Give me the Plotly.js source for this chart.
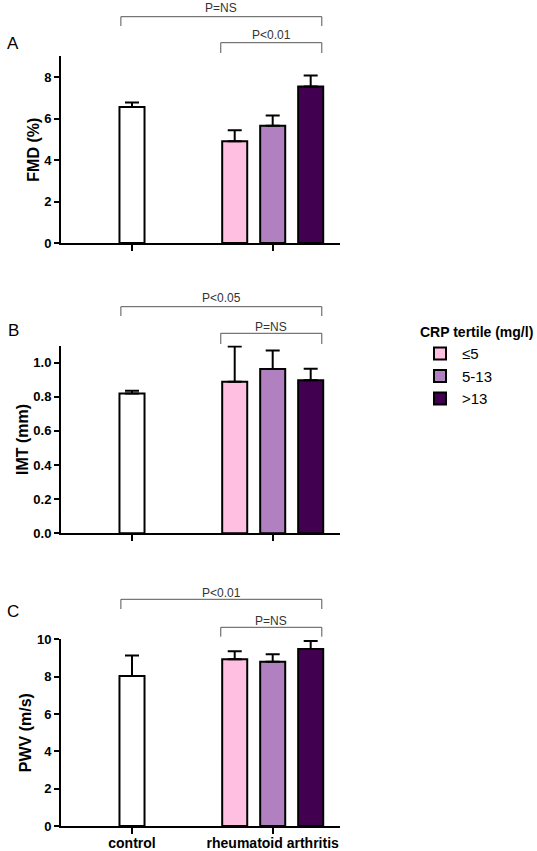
<!DOCTYPE html>
<html>
<head>
<meta charset="utf-8">
<script src="https://cdn.plot.ly/plotly-3.0.1.min.js"></script>
<style>html,body{margin:0;padding:0;background:#fff;}#chart{width:537px;height:851px;}</style>
</head>
<body>
<div id="chart"></div>
<script>
// ---- data ----
var categories = ['control', 'rheumatoid arthritis'];
var tertiles = ['\u22645', '5-13', '>13'];

var fmdControl = 6.55, fmdControlErr = 0.22;
var fmdMeans = [4.9, 5.65, 7.55];
var fmdErr = [0.53, 0.5, 0.53];

var imtControl = 0.82, imtControlErr = 0.016;
var imtMeans = [0.888, 0.963, 0.897];
var imtErr = [0.207, 0.109, 0.067];

var pwvControl = 8.03, pwvControlErr = 1.1;
var pwvMeans = [8.93, 8.8, 9.48];
var pwvErr = [0.43, 0.4, 0.43];

var panelLetters = ['A', 'B', 'C'];
var yTitles = ['FMD (%)', 'IMT (mm)', 'PWV (m/s)'];
var yRanges = [[0, 9], [0, 1.1], [0, 10]];
var yTicks = [[0, 2, 4, 6, 8], [0, 0.2, 0.4, 0.6, 0.8, 1.0], [0, 2, 4, 6, 8, 10]];
var yTickText = [['0', '2', '4', '6', '8'], ['0.0', '0.2', '0.4', '0.6', '0.8', '1.0'], ['0', '2', '4', '6', '8', '10']];
var pTop = ['P=NS', 'P<0.05', 'P<0.01'];
var pSub = ['P<0.01', 'P=NS', 'P=NS'];
var legendTitle = 'CRP tertile (mg/l)';

// ---- style ----
var tertileColors = ['#FFBFE0', '#B080C0', '#420050'];
var W = 537, H = 851;
function py(p) { return 1 - p / H; }
function px(p) { return p / W; }
var barW = 0.178, step = 0.27;
var fontFam = '"Liberation Sans", Arial, Helvetica, sans-serif';

var panels = [
  {c: fmdControl, ce: fmdControlErr, m: fmdMeans, e: fmdErr},
  {c: imtControl, ce: imtControlErr, m: imtMeans, e: imtErr},
  {c: pwvControl, ce: pwvControlErr, m: pwvMeans, e: pwvErr}
];
// pixel geometry: [top of axis, bottom of axis]
var domainsPx = [[56.3, 243], [345.6, 533.3], [639.3, 826]];
var bracketTopPx = [[16.7, 26, 7.5], [306.7, 316, 298], [599.3, 609, 592.5]];
var bracketSubPx = [[42.7, 53, 35.5], [333.3, 344, 326.5], [627.3, 636.7, 620.5]];
var letterPx = [44, 330.5, 611];

var traces = [];
var shapes = [];
var annotations = [];
var layout = {
  width: W, height: H,
  margin: {l: 0, r: 0, t: 0, b: 0},
  paper_bgcolor: '#fff', plot_bgcolor: '#fff',
  font: {family: fontFam, color: '#000'},
  barmode: 'overlay',
  showlegend: true,
  legend: {
    x: px(418), y: py(319), xanchor: 'left', yanchor: 'top',
    title: {text: '<b>' + legendTitle + '</b>', font: {size: 14, color: '#000'}, side: 'top'},
    font: {size: 15, color: '#000'}, itemwidth: 34,
    tracegroupgap: 0, bgcolor: 'rgba(0,0,0,0)'
  }
};

var xL = -barW / 2, xR = 1 + step + barW / 2;
var xSubL = 1 - step - barW / 2;

panels.forEach(function (p, i) {
  var n = i === 0 ? '' : String(i + 1);
  var xa = 'x' + n, ya = 'y' + n;
  traces.push({
    type: 'bar', x: [categories[0]], y: [p.c], xaxis: xa, yaxis: ya,
    width: barW, offset: -barW / 2, showlegend: false, name: 'control',
    marker: {color: '#ffffff', line: {color: '#000', width: 2}},
    error_y: {type: 'data', symmetric: false, array: [p.ce], arrayminus: [0], color: '#000', thickness: 2, width: 7},
    hoverinfo: 'skip'
  });
  tertiles.forEach(function (t, k) {
    traces.push({
      type: 'bar', x: [categories[1]], y: [p.m[k]], xaxis: xa, yaxis: ya,
      width: barW, offset: (k - 1) * step - barW / 2,
      name: t, legendgroup: t, showlegend: i === 0,
      marker: {color: tertileColors[k], line: {color: '#000', width: 2}},
      error_y: {type: 'data', symmetric: false, array: [p.e[k]], arrayminus: [0], color: '#000', thickness: 2, width: 7},
      hoverinfo: 'skip'
    });
  });
  var d = domainsPx[i];
  layout['xaxis' + n] = {
    domain: [px(61), px(340)], anchor: ya, type: 'category',
    categoryorder: 'array', categoryarray: categories,
    range: [-0.5046, 1.4783], showline: true, linecolor: '#000', linewidth: 2,
    ticks: 'outside', ticklen: 6, tickwidth: 2, tickcolor: '#000',
    showgrid: false, zeroline: false,
    showticklabels: i === 2, ticklabelstandoff: -3,
    tickfont: {family: fontFam, size: 14, weight: 'bold', color: '#000'}
  };
  layout['yaxis' + n] = {
    domain: [py(d[1]), py(d[0])], anchor: xa, range: yRanges[i],
    tickvals: yTicks[i], ticktext: yTickText[i],
    showline: true, linecolor: '#000', linewidth: 2,
    ticks: 'outside', ticklen: 5, tickwidth: 2, tickcolor: '#000',
    showgrid: false, zeroline: false,
    tickfont: {family: fontFam, size: 13, weight: 'bold', color: '#000'},
    title: {text: yTitles[i], font: {family: fontFam, size: 16, weight: 'bold', color: '#000'}, standoff: 1}
  };
  // brackets
  function bracket(x0, x1, b, label) {
    var ln = {color: '#555', width: 1};
    shapes.push({type: 'line', xref: xa, yref: 'paper', x0: x0, x1: x1, y0: py(b[0]), y1: py(b[0]), line: ln});
    shapes.push({type: 'line', xref: xa, yref: 'paper', x0: x0, x1: x0, y0: py(b[0]), y1: py(b[1]), line: ln});
    shapes.push({type: 'line', xref: xa, yref: 'paper', x0: x1, x1: x1, y0: py(b[0]), y1: py(b[1]), line: ln});
    annotations.push({xref: xa, yref: 'paper', x: (x0 + x1) / 2, y: py(b[2]), text: label, showarrow: false,
      xanchor: 'center', yanchor: 'middle', font: {family: fontFam, size: 12, color: '#333'}});
  }
  bracket(xL + 0.01, xR - 0.01, bracketTopPx[i], pTop[i]);
  bracket(xSubL - 0.01, xR - 0.01, bracketSubPx[i], pSub[i]);
  annotations.push({xref: 'paper', yref: 'paper', x: px(13), y: py(letterPx[i]), text: panelLetters[i],
    showarrow: false, xanchor: 'center', yanchor: 'middle', font: {family: fontFam, size: 17, color: '#000'}});
});

layout.shapes = shapes;
layout.annotations = annotations;

Plotly.newPlot('chart', traces, layout, {staticPlot: true, displayModeBar: false});
</script>
</body>
</html>
